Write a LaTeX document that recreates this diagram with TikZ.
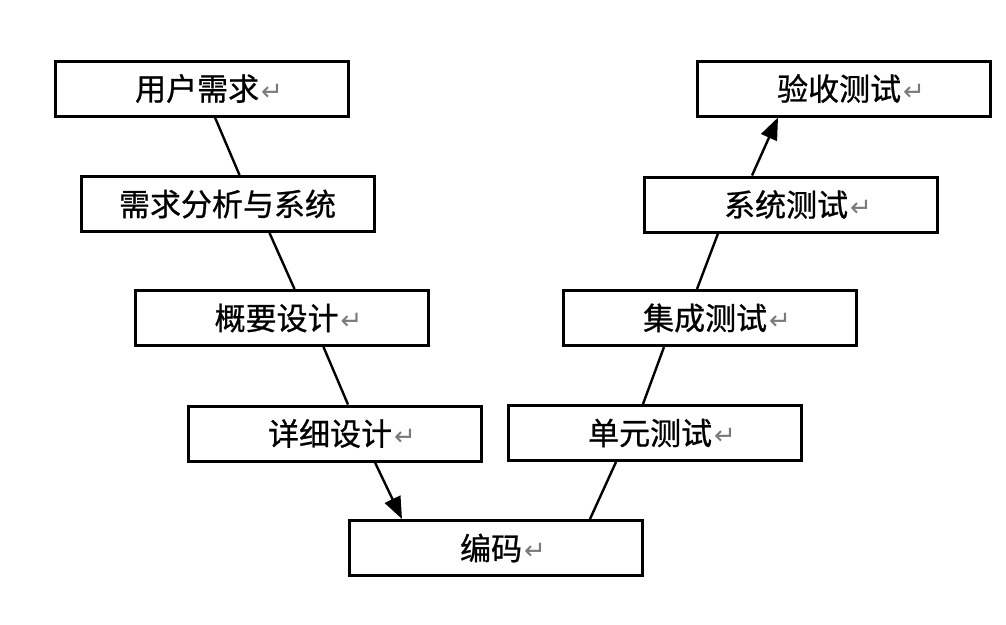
\documentclass[tikz,border=0pt]{standalone}
\usepackage{fontspec}
\newfontfamily\cjk[FakeBold=0.8]{Noto Sans CJK SC}
\newfontfamily\symf{DejaVu Sans}
\usetikzlibrary{arrows.meta}
\newcommand{\ret}{\hspace{2pt}{\symf\fontsize{26}{26}\selectfont\color{retgray}↵}}
\definecolor{retgray}{HTML}{7A7A7A}
\tikzset{
  stagebox/.style={draw=black, line width=3pt, fill=white, minimum width=293pt, minimum height=55pt,
    inner sep=0pt, font=\cjk\fontsize{31}{31}\selectfont},
  conn/.style={line width=2.4pt, black},
  arr/.style={conn, -{Triangle[length=22pt,width=17pt]}}
}
\begin{document}
\begin{tikzpicture}[x=1pt,y=-1pt]
\useasboundingbox[fill=white] (0,0) rectangle (1006,624);
\node[stagebox] (u)  at (202,88.5)  {\hspace{14pt}用户需求\ret};
\node[stagebox] (r)  at (227.5,204) {需求分析与系统};
\node[stagebox] (g)  at (281.5,318) {\hspace{14pt}概要设计\ret};
\node[stagebox] (d)  at (335,433.5) {\hspace{14pt}详细设计\ret};
\node[stagebox] (c)  at (496,548)   {\hspace{14pt}编码\ret};
\node[stagebox] (un) at (655,433)   {\hspace{14pt}单元测试\ret};
\node[stagebox] (j)  at (710,318)   {\hspace{14pt}集成测试\ret};
\node[stagebox] (s)  at (791,204.5) {\hspace{14pt}系统测试\ret};
\node[stagebox] (y)  at (844,88.5)  {\hspace{14pt}验收测试\ret};
% left branch
\draw[conn] ([xshift=161pt]u.south west) -- ([xshift=160pt]r.north west);
\draw[conn] ([xshift=190pt]r.south west) -- ([xshift=161pt]g.north west);
\draw[conn] ([xshift=190pt]g.south west) -- ([xshift=161pt]d.north west);
\draw[arr]  ([xshift=188pt]d.south west) -- ([xshift=54pt]c.north west);
% right branch
\draw[conn] ([xshift=242pt]c.north west) -- ([xshift=109pt]un.south west);
\draw[conn] ([xshift=136pt]un.north west) -- ([xshift=102pt]j.south west);
\draw[conn] ([xshift=135pt]j.north west) -- ([xshift=75pt]s.south west);
\draw[arr]  ([xshift=109pt]s.north west) -- ([xshift=82pt]y.south west);
\end{tikzpicture}
\end{document}
